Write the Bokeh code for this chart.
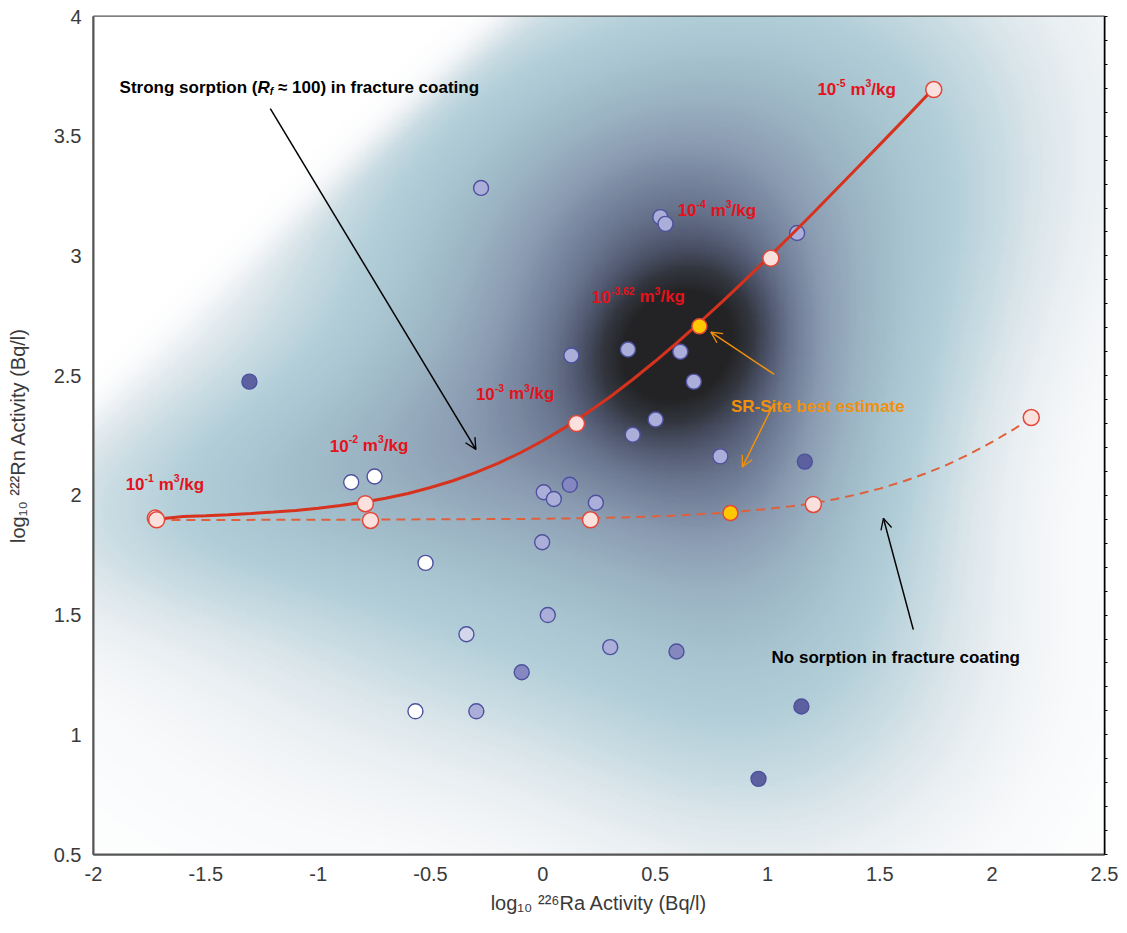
import numpy as np
from bokeh.plotting import figure
from bokeh.models import (ColumnDataSource, LinearAxis, FixedTicker,
                          LinearColorMapper, Arrow, OpenHead)
from bokeh.transform import linear_cmap
from bokeh.core.properties import value
from bokeh.embed import file_html
from bokeh.resources import INLINE

# ---------------- data ----------------
sample_ra = [-1.306, -0.275, 0.523, 0.546, 1.132, 0.127, 0.379, 0.612, 0.672, 0.502,
             0.400, 0.790, 1.166, -0.853, -0.749, 0.120, 0.004, 0.049, 0.236, -0.003,
             -0.522, 0.022, -0.340, 0.300, 0.595, -0.094, -0.567, -0.296, 1.151, 0.960]
sample_rn = [2.475, 3.284, 3.162, 3.134, 3.096, 2.584, 2.609, 2.600, 2.475, 2.317,
             2.253, 2.163, 2.141, 2.055, 2.079, 2.044, 2.013, 1.985, 1.969, 1.804,
             1.718, 1.500, 1.420, 1.366, 1.348, 1.261, 1.098, 1.098, 1.118, 0.816]
sample_level = [0.90, 0.60, 0.50, 0.45, 0.60, 0.45, 0.45, 0.40, 0.45, 0.45,
                0.45, 0.40, 0.90, 0.00, 0.00, 0.65, 0.55, 0.40, 0.40, 0.45,
                0.15, 0.60, 0.25, 0.55, 0.65, 0.70, 0.00, 0.40, 0.90, 0.90]

strong_ra = [-1.72, -1.6, -1.5, -1.4, -1.3, -1.2, -1.1, -1.0, -0.9, -0.8, -0.7, -0.6,
             -0.5, -0.4, -0.3, -0.2, -0.1, 0.0, 0.1, 0.2, 0.3, 0.4, 0.5, 0.6, 0.7,
             0.8, 0.9, 1.0, 1.1, 1.2, 1.3, 1.4, 1.5, 1.6, 1.74]
strong_rn = [1.900, 1.912, 1.915, 1.919, 1.924, 1.930, 1.937, 1.946, 1.958, 1.971,
             1.988, 2.008, 2.033, 2.061, 2.095, 2.134, 2.178, 2.228, 2.284, 2.346,
             2.412, 2.484, 2.560, 2.640, 2.724, 2.810, 2.899, 2.990, 3.082, 3.176,
             3.272, 3.368, 3.465, 3.562, 3.700]
nosorb_ra = [-1.72, -1.0, 0.0, 0.2, 0.4, 0.6, 0.8, 1.0, 1.1, 1.2, 1.3, 1.4, 1.5,
             1.6, 1.7, 1.8, 1.9, 2.0, 2.1, 2.174]
nosorb_rn = [1.897, 1.898, 1.902, 1.905, 1.909, 1.916, 1.927, 1.943, 1.954, 1.966,
             1.984, 2.004, 2.028, 2.057, 2.090, 2.128, 2.173, 2.223, 2.278, 2.325]

strong_pts_ra = [-1.725, -1.719, -0.79, 0.15, 1.015, 1.74]
strong_pts_rn = [1.905, 1.898, 1.965, 2.300, 2.990, 3.695]
nosorb_pts_ra = [-0.767, 0.212, 1.204, 2.174]
nosorb_pts_rn = [1.895, 1.898, 1.962, 2.325]
best_ra = [0.697, 0.835]
best_rn = [2.706, 1.926]

x_ticks = [-2, -1.5, -1, -0.5, 0, 0.5, 1, 1.5, 2, 2.5]
x_tick_labels = ["-2", "-1.5", "-1", "-0.5", "0", "0.5", "1", "1.5", "2", "2.5"]
y_ticks = [0.5, 1, 1.5, 2, 2.5, 3, 3.5, 4]
y_tick_labels = ["0.5", "1", "1.5", "2", "2.5", "3", "3.5", "4"]

# background density field (components estimated from the shading)
dens_cx = [0.60, 0.50, -1.20, 1.00, 0.30, 0.20, 0.95]
dens_cy = [2.63, 2.60, 2.05, 1.30, 3.40, 2.80, 2.20]
dens_sx = [0.22, 0.90, 0.75, 0.70, 0.80, 1.20, 0.45]
dens_sy = [0.20, 0.80, 0.35, 0.60, 0.50, 1.00, 0.55]
dens_rho = [0.20, 0.40, 0.30, 0.00, 0.30, 0.50, 0.00]
dens_w = [0.40, 0.50, 0.20, 0.20, 0.20, 0.15, 0.22]
# upper-left edge of the shaded field: a point on it and its slope
edge_x, edge_y, edge_slope = -1.47, 2.81, 0.90

# ---------------- styling ----------------
FONT = "Liberation Sans"
TICK_FONT = "Liberation Sans Narrow, Liberation Sans"
RED = "#e3121b"
ORANGE = "#f0900c"

p = figure(width=1127, height=933, x_range=(-2, 2.5), y_range=(0.5, 4),
           output_backend="svg", toolbar_location=None,
           min_border_left=93, min_border_right=23, min_border_top=16, min_border_bottom=79)
p.grid.visible = False
p.outline_line_color = "#555555"
p.outline_line_width = 2
p.background_fill_color = "white"

# background image
nx, ny = 450, 350
gx = np.linspace(-2, 2.5, nx)
gy = np.linspace(0.5, 4, ny)
X, Y = np.meshgrid(gx, gy)
D = np.zeros_like(X)
for cx, cy, sx, sy, r, w in zip(dens_cx, dens_cy, dens_sx, dens_sy, dens_rho, dens_w):
    u = (X - cx) / sx
    v = (Y - cy) / sy
    q = (u * u - 2 * r * u * v + v * v) / (1 - r * r)
    D += w * np.exp(-0.5 * q)
sdist = ((edge_y + edge_slope * (X - edge_x)) - Y) / np.sqrt(1 + edge_slope ** 2)
D *= 1.0 / (1.0 + np.exp(-(sdist + 0.02) / 0.045))
D = np.clip(D, 0, 1)

stops = [0.00, 0.04, 0.10, 0.17, 0.25, 0.35, 0.47, 0.58, 0.68, 0.78, 0.88, 1.00]
stop_cols = ["#ffffff", "#f5f7f9", "#e2eaee", "#c8dbe2", "#b2ced8", "#a6c3cf",
             "#9ab2c2", "#8a9bb1", "#6f7b95", "#4e566d", "#33363f", "#232325"]
rgb = np.array([[int(c[i:i + 2], 16) for i in (1, 3, 5)] for c in stop_cols], float)
pal = []
for ti in np.linspace(0, 1, 256):
    r_ = np.interp(ti, stops, rgb[:, 0]); g_ = np.interp(ti, stops, rgb[:, 1]); b_ = np.interp(ti, stops, rgb[:, 2])
    pal.append("#%02x%02x%02x" % (int(round(r_)), int(round(g_)), int(round(b_))))
p.image(image=[D], x=-2, y=0.5, dw=4.5, dh=3.5,
        color_mapper=LinearColorMapper(palette=pal, low=0, high=1))

# sample points
src = ColumnDataSource(dict(x=sample_ra, y=sample_rn, lv=sample_level))
p.scatter("x", "y", source=src, size=15, marker="circle",
          fill_color=linear_cmap("lv", ["#ffffff", "#d4d6ec", "#abaed8", "#8587c0", "#5d609f"], 0, 1),
          line_color="#4d519e", line_width=1.4)

# model curves
p.line(nosorb_ra, nosorb_rn, line_color="#e0603c", line_width=2, line_dash="9 6")
p.line(strong_ra, strong_rn, line_color="#d6321e", line_width=3)
p.scatter(strong_pts_ra, strong_pts_rn, size=16, fill_color="#fbe1de", line_color="#e2473a", line_width=1.5)
p.scatter(nosorb_pts_ra, nosorb_pts_rn, size=16, fill_color="#fbe1de", line_color="#e2473a", line_width=1.5)
p.scatter(best_ra, best_rn, size=15, fill_color="#ffc800", line_color="#e2473a", line_width=1.5)

# ---------------- rich text helper ----------------
W = {' ': 278, '(': 333, ')': 333, '-': 333, '.': 278, '/': 278, '≈': 584,
     'N': 722, 'R': 722, 'S': 667, 'a': 556, 'b': 611, 'c': 556, 'e': 556, 'f': 333,
     'g': 611, 'i': 278, 'k': 556, 'm': 889, 'n': 611, 'o': 611, 'p': 611, 'r': 389,
     's': 556, 't': 333, 'u': 611}


def tw(s, size):
    return sum(W.get(c, 556) for c in s) * size / 1000.0


def rich(x, y, segs, size, color):
    off = 0.0
    for txt, kind in segs:
        style = "bold italic" if kind.startswith("i") else "bold"
        fs, dy = size, 0.0
        if kind.endswith("sup"):
            fs, dy = size * 0.62, -size * 0.36
        elif kind.endswith("sub"):
            fs, dy = size * 0.62, size * 0.22
        lead = len(txt) - len(txt.lstrip(" "))
        off += tw(" " * lead, fs)
        core = txt.strip(" ")
        p.text(x=[x], y=[y], text=[core], x_offset=off, y_offset=dy,
               text_font=value(FONT), text_font_size="%.1fpx" % fs, text_font_style=style,
               text_color=color, text_align="left", text_baseline="alphabetic")
        off += tw(txt.lstrip(" "), fs)


S = 17
rich(-1.884, 3.704, [("Strong sorption (", "n"), ("R", "i"), ("f", "isub"),
                     (" ≈ 100) in fracture coating", "n")], S, "black")
rich(1.018, 1.322, [("No sorption in fracture coating", "n")], S, "black")
rich(0.837, 2.372, [("SR-Site best estimate", "n")], S, ORANGE)
for lx, ly, ex in [(-1.857, 2.047, "-1"), (-0.948, 2.208, "-2"), (-0.298, 2.424, "-3"),
                   (0.218, 2.830, "-3.62"), (0.600, 3.191, "-4"), (1.222, 3.697, "-5")]:
    rich(lx, ly, [("10", "n"), (ex, "sup"), (" m", "n"), ("3", "sup"), ("/kg", "n")], S, RED)

# arrows: shaft as segment, head as arrow annotation
arrows = [(-1.213, 3.615, -0.298, 2.192, "black"),
          (1.649, 1.439, 1.516, 1.904, "black"),
          (1.030, 2.505, 0.748, 2.682, ORANGE),
          (1.030, 2.386, 0.888, 2.118, ORANGE)]
for xs, ys, xe, ye, col in arrows:
    p.segment(x0=[xs], y0=[ys], x1=[xe], y1=[ye], line_color=col, line_width=1.5)
    p.add_layout(Arrow(end=OpenHead(size=11, line_color=col, line_width=1.3),
                       x_start=xs, y_start=ys, x_end=xe, y_end=ye,
                       line_alpha=0))

# ---------------- axes ----------------
for ax in (p.xaxis[0], p.yaxis[0]):
    ax.axis_line_color = "#555555"
    ax.axis_line_width = 2
    ax.major_tick_line_color = None
    ax.minor_tick_line_color = None
    ax.major_label_text_font = TICK_FONT
    ax.major_label_text_font_size = "20px"
    ax.major_label_text_color = "#3a3a3a"
    ax.axis_label_text_font = TICK_FONT
    ax.axis_label_text_font_size = "20px"
    ax.axis_label_text_font_style = "normal"
    ax.axis_label_text_color = "#3a3a3a"

p.xaxis[0].ticker = FixedTicker(ticks=x_ticks)
p.xaxis[0].major_label_overrides = dict(zip(x_ticks, x_tick_labels))
p.yaxis[0].ticker = FixedTicker(ticks=y_ticks)
p.yaxis[0].major_label_overrides = dict(zip(y_ticks, y_tick_labels))
p.xaxis[0].axis_label = "log₁₀ ²²⁶Ra Activity (Bq/l)"
p.yaxis[0].axis_label = "log₁₀ ²²²Rn Activity (Bq/l)"
p.xaxis[0].major_label_standoff = 6
p.yaxis[0].major_label_standoff = 6
p.xaxis[0].axis_label_standoff = 8
p.yaxis[0].axis_label_standoff = 22

right_minor = [round(0.5 + 0.1 * i, 2) for i in range(36)]
right = LinearAxis(ticker=FixedTicker(ticks=[], minor_ticks=right_minor),
                   axis_line_color="black", axis_line_width=1.5,
                   major_tick_line_color=None, minor_tick_out=3, minor_tick_in=0,
                   minor_tick_line_color="black", minor_tick_line_width=1)
p.add_layout(right, "right")

open("out.html", "w").write(file_html(p, INLINE))
